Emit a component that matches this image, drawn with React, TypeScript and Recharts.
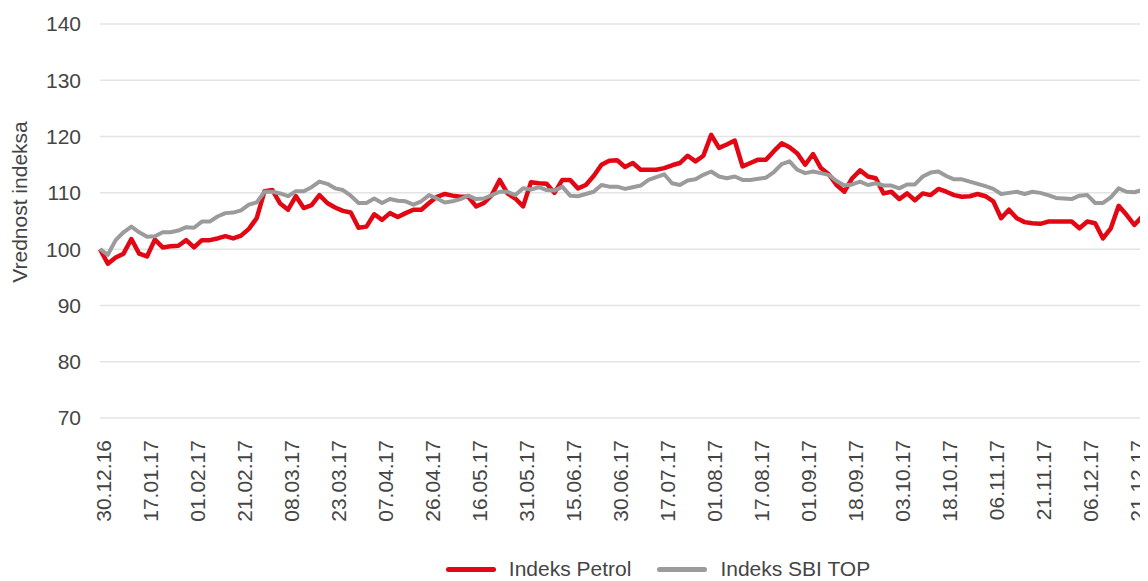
import { CartesianGrid, Label, Legend, Line, LineChart, XAxis, YAxis } from 'recharts';

// Tick dates (one label every 6 points)
const TICK_DATES = [
  '30.12.16', '17.01.17', '01.02.17', '21.02.17', '08.03.17', '23.03.17',
  '07.04.17', '26.04.17', '16.05.17', '31.05.17', '15.06.17', '30.06.17',
  '17.07.17', '01.08.17', '17.08.17', '01.09.17', '18.09.17', '03.10.17',
  '18.10.17', '06.11.17', '21.11.17', '06.12.17', '21.12.17',
];
const TICK_STEP = 6;

const PETROL = [
  100.0, 97.4, 98.5, 99.2, 101.8, 99.2, 98.7, 101.7, 100.3, 100.5,
  100.6, 101.6, 100.3, 101.6, 101.6, 101.9, 102.3, 101.9, 102.4, 103.6,
  105.5, 110.3, 110.5, 108.1, 107.0, 109.4, 107.3, 107.8, 109.6, 108.2,
  107.4, 106.8, 106.5, 103.8, 104.0, 106.2, 105.2, 106.4, 105.7, 106.4,
  107.0, 107.0, 108.2, 109.3, 109.8, 109.5, 109.3, 109.3, 107.6, 108.2,
  109.6, 112.3, 109.9, 109.0, 107.6, 111.9, 111.7, 111.6, 110.0, 112.3,
  112.3, 110.8, 111.4, 113.0, 115.0, 115.7, 115.8, 114.6, 115.3, 114.1,
  114.1, 114.1, 114.4, 114.9, 115.3, 116.6, 115.6, 116.6, 120.3, 118.0,
  118.6, 119.3, 114.7, 115.3, 115.9, 115.9, 117.4, 118.8, 118.1, 117.0,
  115.0, 116.9, 114.4, 113.3, 111.4, 110.2, 112.6, 114.0, 112.9, 112.6,
  109.9, 110.2, 108.9, 109.9, 108.7, 109.9, 109.6, 110.7, 110.2, 109.6,
  109.3, 109.4, 109.8, 109.4, 108.5, 105.5, 107.0, 105.5, 104.8, 104.6,
  104.5, 104.9, 104.9, 104.9, 104.9, 103.7, 104.9, 104.6, 101.9, 103.7,
  107.7, 106.1, 104.3, 105.8, 104.6,
];

const SBI_TOP = [
  100.0, 99.0, 101.6, 103.0, 104.0, 103.0, 102.2, 102.3, 103.0, 103.0,
  103.3, 103.9, 103.8, 104.9, 104.9, 105.8, 106.4, 106.5, 106.9, 107.9,
  108.3, 110.2, 110.2, 109.9, 109.4, 110.3, 110.3, 111.0, 112.0, 111.6,
  110.8, 110.5, 109.5, 108.2, 108.2, 109.0, 108.2, 108.9, 108.6, 108.5,
  107.9, 108.5, 109.6, 109.0, 108.3, 108.5, 108.9, 109.5, 108.9, 109.0,
  109.6, 110.2, 110.2, 109.6, 110.8, 110.6, 111.0, 110.5, 110.4, 111.1,
  109.5, 109.4, 109.8, 110.2, 111.4, 111.1, 111.1, 110.7, 111.0, 111.3,
  112.3, 112.8, 113.3, 111.7, 111.4, 112.2, 112.4, 113.2, 113.8, 112.9,
  112.6, 112.9, 112.3, 112.3, 112.5, 112.7, 113.7, 115.1, 115.6, 114.1,
  113.5, 113.8, 113.5, 113.2, 112.1, 111.3, 111.5, 112.0, 111.4, 111.7,
  111.3, 111.3, 110.8, 111.5, 111.5, 112.9, 113.6, 113.8, 113.0, 112.4,
  112.4, 112.0, 111.6, 111.2, 110.7, 109.8, 110.0, 110.2, 109.8, 110.2,
  110.0, 109.6, 109.1, 109.0, 108.9, 109.5, 109.6, 108.2, 108.2, 109.2,
  110.8, 110.2, 110.1, 110.5, 110.8,
];

const Y_TICKS = [70, 80, 90, 100, 110, 120, 130, 140];

const RED = '#e30613';
const GREY = '#9b9b9b';
const TEXT = '#454545';
const FONT = '"Liberation Sans", Arial, sans-serif';

const data = PETROL.map((v, i) => ({ i, petrol: v, sbi: SBI_TOP[i] }));
const xTicks = TICK_DATES.map((_, k) => k * TICK_STEP);

function DateTick(props: any) {
  const { x, y, payload } = props;
  const label = TICK_DATES[Math.round(payload.value / TICK_STEP)] ?? '';
  const tx = x + 3;
  const ty = y + 22;
  return (
    <text
      x={tx}
      y={ty}
      dy="0.36em"
      transform={`rotate(-90 ${tx} ${ty})`}
      textAnchor="end"
      fill={TEXT}
      fontSize={21}
      fontFamily={FONT}
    >
      {label}
    </text>
  );
}

function LegendContent() {
  const items = [
    { name: 'Indeks Petrol', color: RED },
    { name: 'Indeks SBI TOP', color: GREY },
  ];
  return (
    <div
      style={{
        display: 'flex',
        justifyContent: 'center',
        alignItems: 'center',
        height: 28,
        lineHeight: '28px',
        fontFamily: FONT,
        fontSize: 21,
        color: TEXT,
        gap: 26,
      }}
    >
      {items.map((it) => (
        <div key={it.name} style={{ display: 'flex', alignItems: 'center' }}>
          <span
            style={{
              display: 'inline-block',
              width: 50,
              height: 5,
              borderRadius: 3,
              background: it.color,
              marginRight: 13,
            }}
          />
          <span>{it.name}</span>
        </div>
      ))}
    </div>
  );
}

export default function App() {
  return (
    <div style={{ width: 1140, height: 573, overflow: 'hidden' }}>
      <style>{'body{overflow:hidden}'}</style>
      <LineChart
        width={1300}
        height={600}
        data={data}
        margin={{ top: 16, right: 158, bottom: 90, left: 0 }}
      >
        <CartesianGrid vertical={false} stroke="#e4e4e4" strokeWidth={1.5} />
        <XAxis
          dataKey="i"
          type="number"
          domain={[0, PETROL.length - 1]}
          ticks={xTicks}
          interval={0}
          height={100}
          tickLine={false}
          axisLine={false}
          tickSize={0}
          tickMargin={0}
          tick={<DateTick />}
        />
        <YAxis
          domain={[70, 140]}
          ticks={Y_TICKS}
          width={92}
          tickLine={false}
          axisLine={false}
          tickSize={0}
          tickMargin={19}
          tick={{ fill: TEXT, fontSize: 21, fontFamily: FONT }}
        >
          <Label
            content={() => (
              <text
                x={11}
                y={194}
                transform="rotate(-90 11 194)"
                textAnchor="middle"
                dy="0.36em"
                fill={TEXT}
                fontSize={21}
                fontFamily={FONT}
              >
                Vrednost indeksa
              </text>
            )}
          />
        </YAxis>
        <Legend
          layout="horizontal"
          verticalAlign="middle"
          align="center"
          content={<LegendContent />}
          wrapperStyle={{ top: 547, left: 0, width: 1300, height: 28 }}
        />
        <Line
          type="linear"
          dataKey="petrol"
          name="Indeks Petrol"
          stroke={RED}
          strokeWidth={4.5}
          strokeLinejoin="round"
          dot={false}
          activeDot={false}
          isAnimationActive={false}
        />
        <Line
          type="linear"
          dataKey="sbi"
          name="Indeks SBI TOP"
          stroke={GREY}
          strokeWidth={4}
          strokeLinejoin="round"
          dot={false}
          activeDot={false}
          isAnimationActive={false}
        />
      </LineChart>
    </div>
  );
}
